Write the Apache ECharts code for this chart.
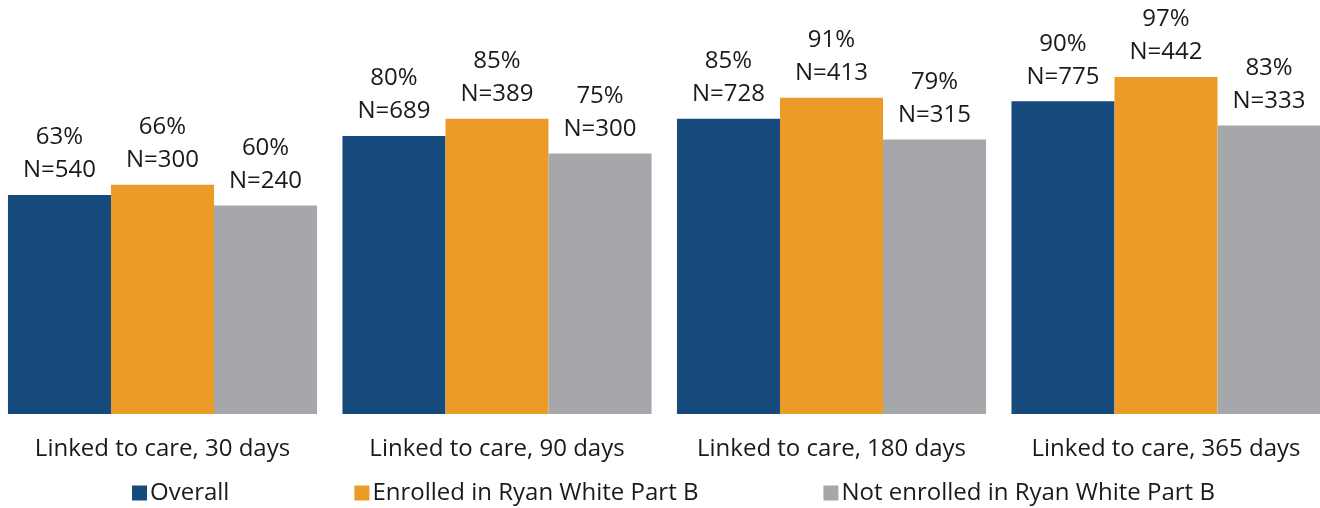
<!DOCTYPE html>
<html>
<head>
<meta charset="utf-8">
<script src="https://cdn.jsdelivr.net/npm/echarts@6/dist/echarts.min.js"></script>
<style>html,body{margin:0;padding:0;background:#fff}#c{width:1320px;height:508px}</style>
</head>
<body>
<div id="c"></div>
<script>
const categories = ['Linked to care, 30 days', 'Linked to care, 90 days', 'Linked to care, 180 days', 'Linked to care, 365 days'];
const seriesNames = ['Overall', 'Enrolled in Ryan White Part B', 'Not enrolled in Ryan White Part B'];
const overallPct = [63, 80, 85, 90];
const overallN = [540, 689, 728, 775];
const enrolledPct = [66, 85, 91, 97];
const enrolledN = [300, 389, 413, 442];
const notEnrolledPct = [60, 75, 79, 83];
const notEnrolledN = [240, 300, 315, 333];
const colors = ['#174a7c', '#ed9b28', '#a6a7ab'];

const pcts = [overallPct, enrolledPct, notEnrolledPct];
const ns = [overallN, enrolledN, notEnrolledN];
const FONT = '"Open Sans", "Noto Sans", sans-serif';

const chart = echarts.init(document.getElementById('c'), null, {renderer: 'canvas'});
chart.setOption({
  animation: false,
  backgroundColor: '#fff',
  color: colors,
  grid: {left: -4.75, width: 1338, top: 66.5, bottom: 94, containLabel: false, outerBoundsMode: 'none'},
  legend: {
    left: 127, top: 476,
    icon: 'rect', itemWidth: 15, itemHeight: 15, itemGap: 125,
    textStyle: {fontFamily: FONT, fontSize: 24, color: '#1a1a1a', padding: [0, 0, 0, -2]},
    data: seriesNames
  },
  xAxis: {
    type: 'category', data: categories,
    axisLine: {show: false}, axisTick: {show: false},
    axisLabel: {interval: 0, fontFamily: FONT, fontSize: 24, color: '#1a1a1a', margin: 23}
  },
  yAxis: {type: 'value', min: 0, max: 100, show: false, splitLine: {show: false}},
  series: seriesNames.map((name, i) => ({
    name, type: 'bar', data: pcts[i],
    barGap: '0%', barCategoryGap: '7.6%',
    itemStyle: {color: colors[i]},
    label: {
      show: true, position: 'top', distance: 8,
      fontFamily: FONT, fontSize: 24, color: '#1a1a1a', lineHeight: 33,
      formatter: p => p.value + '%\nN=' + ns[i][p.dataIndex]
    }
  }))
});
</script>
</body>
</html>
